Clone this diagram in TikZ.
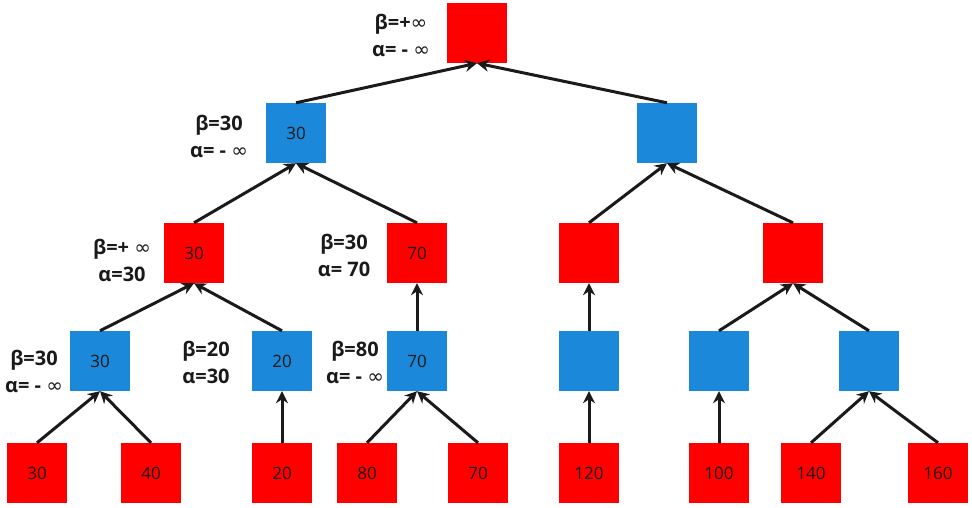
\documentclass[tikz,border=0pt]{standalone}
\usepackage{fontspec}
\setmainfont{Open Sans}
\newfontfamily\symfont{DejaVu Sans}
\usetikzlibrary{arrows.meta}
\definecolor{nred}{HTML}{FF0000}
\definecolor{nblue}{HTML}{1B88DA}
\definecolor{edgec}{HTML}{1A1A1A}
\newcommand{\infy}{{\symfont\mdseries ∞}}
\tikzset{
  box/.style={minimum width=60pt, minimum height=60pt, inner sep=0pt, font=\fontsize{17}{17}\selectfont, text=edgec},
  maxbox/.style={box, fill=nred},
  minbox/.style={box, fill=nblue},
  edge/.style={draw=edgec, line width=3pt, -{Stealth[length=12pt,width=12pt]}},
  lab/.style={font=\fontsize{20}{27}\selectfont\bfseries, align=center, text=edgec, inner sep=0pt}
}
\begin{document}
\begin{tikzpicture}[x=1pt,y=-1pt]
\useasboundingbox (0,0) rectangle (972,507);
% root
\node[maxbox] (r) at (477,33) {};
% level 1
\node[minbox] (a1) at (296,133) {30};
\node[minbox] (a2) at (667,133) {};
% level 2
\node[maxbox] (b1) at (194,253) {30};
\node[maxbox] (b2) at (417,253) {70};
\node[maxbox] (b3) at (589,253) {};
\node[maxbox] (b4) at (793,253) {};
% level 3
\node[minbox] (c1) at (100,361) {30};
\node[minbox] (c2) at (282,361) {20};
\node[minbox] (c3) at (417,361) {70};
\node[minbox] (c4) at (589,361) {};
\node[minbox] (c5) at (719,361) {};
\node[minbox] (c6) at (869,361) {};
% leaves
\node[maxbox] (d1) at (37,473) {30};
\node[maxbox] (d2) at (151,473) {40};
\node[maxbox] (d3) at (282,473) {20};
\node[maxbox] (d4) at (367,473) {80};
\node[maxbox] (d5) at (478,473) {70};
\node[maxbox] (d6) at (589,473) {120};
\node[maxbox] (d7) at (719,473) {100};
\node[maxbox] (d8) at (811,473) {140};
\node[maxbox] (d9) at (938,473) {160};
% edges
\draw[edge] (a1.north) -- (r.south);
\draw[edge] (a2.north) -- (r.south);
\draw[edge] (b1.north) -- (a1.south);
\draw[edge] (b2.north) -- (a1.south);
\draw[edge] (b3.north) -- (a2.south);
\draw[edge] (b4.north) -- (a2.south);
\draw[edge] (c1.north) -- (b1.south);
\draw[edge] (c2.north) -- (b1.south);
\draw[edge] (c3.north) -- (b2.south);
\draw[edge] (c4.north) -- (b3.south);
\draw[edge] (c5.north) -- (b4.south);
\draw[edge] (c6.north) -- (b4.south);
\draw[edge] (d1.north) -- (c1.south);
\draw[edge] (d2.north) -- (c1.south);
\draw[edge] (d3.north) -- (c2.south);
\draw[edge] (d4.north) -- (c3.south);
\draw[edge] (d5.north) -- (c3.south);
\draw[edge] (d6.north) -- (c4.south);
\draw[edge] (d7.north) -- (c5.south);
\draw[edge] (d8.north) -- (c6.south);
\draw[edge] (d9.north) -- (c6.south);
% labels
\node[lab] (lr) at (401,35) {β=+\infy\\α= - \infy};
\node[lab] (la1) at (219,136) {β=30\\α= - \infy};
\node[lab] (lb1) at (122,260) {β=+ \infy\\α=30};
\node[lab] (lb2) at (344,255) {β=30\\α= 70};
\node[lab] (lc1) at (34,371) {β=30\\α= - \infy};
\node[lab] (lc2) at (206,362) {β=20\\α=30};
\node[lab] (lc3) at (355,362) {β=80\\α= - \infy};
\end{tikzpicture}
\end{document}
